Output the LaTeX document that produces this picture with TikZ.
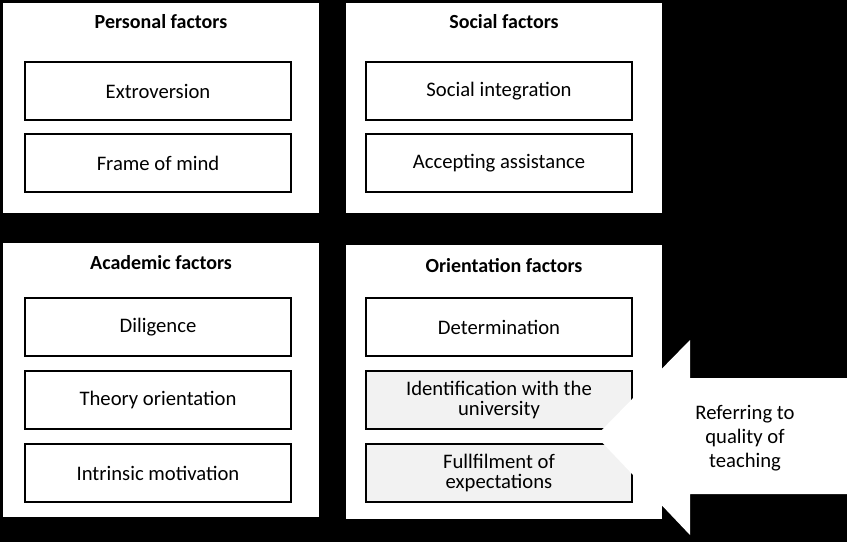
\documentclass[tikz,border=0pt]{standalone}
\usepackage{fontspec}
\setmainfont{Carlito}
\begin{document}
\begin{tikzpicture}[x=0.75pt,y=-0.75pt,
  panel/.style={draw=black,fill=white,line width=0.8pt},
  item/.style={draw=black,fill=white,line width=1pt,align=center,font=\fontsize{15.5}{17}\selectfont},
  grayitem/.style={item,fill=black!5},
  head/.style={font=\bfseries\fontsize{15}{17}\selectfont}]
\fill[black] (0,0) rectangle (847,542);
\useasboundingbox (0,0) rectangle (847,542);
\draw[panel] (2,2) rectangle (320,214);
\draw[panel] (345,2) rectangle (663,214);
\draw[panel] (2,242) rectangle (320,518);
\draw[panel] (345,244) rectangle (663,520);
\node[head] (hp) at (161,22) {Personal factors};
\node[head] (hs) at (504,22) {Social factors};
\node[head] (ha) at (161,263) {Academic factors};
\node[head] (ho) at (504,266) {Orientation factors};
\draw[item] (25,62) rectangle node (e) {Extroversion} (291,120);
\draw[item] (25,134) rectangle node (f) {Frame of mind} (291,192);
\draw[item] (366,62) rectangle node (si) {Social integration} (632,120);
\draw[item] (366,134) rectangle node (aa) {Accepting assistance} (632,192);
\draw[item] (25,298) rectangle node (d) {Diligence} (291,356);
\draw[item] (25,371) rectangle node (t) {Theory orientation} (291,429);
\draw[item] (25,444) rectangle node (im) {Intrinsic motivation} (291,502);
\draw[item] (366,298) rectangle node (de) {Determination} (632,356);
\draw[grayitem] (366,371) rectangle node[align=center] (id) {Identification with the\\[-2pt]university} (632,429);
\draw[grayitem] (366,444) rectangle node[align=center] (fu) {Fullfilment of\\[-2pt]expectations} (632,502);
\fill[white] (596,436) -- (690,340) -- (690,378) -- (847,378) -- (847,494) -- (690,494) -- (690,535) -- cycle;
\node[align=center,font=\fontsize{15.5}{18}\selectfont] (ar) at (745,438) {Referring to\\quality of\\teaching};
\end{tikzpicture}
\end{document}
